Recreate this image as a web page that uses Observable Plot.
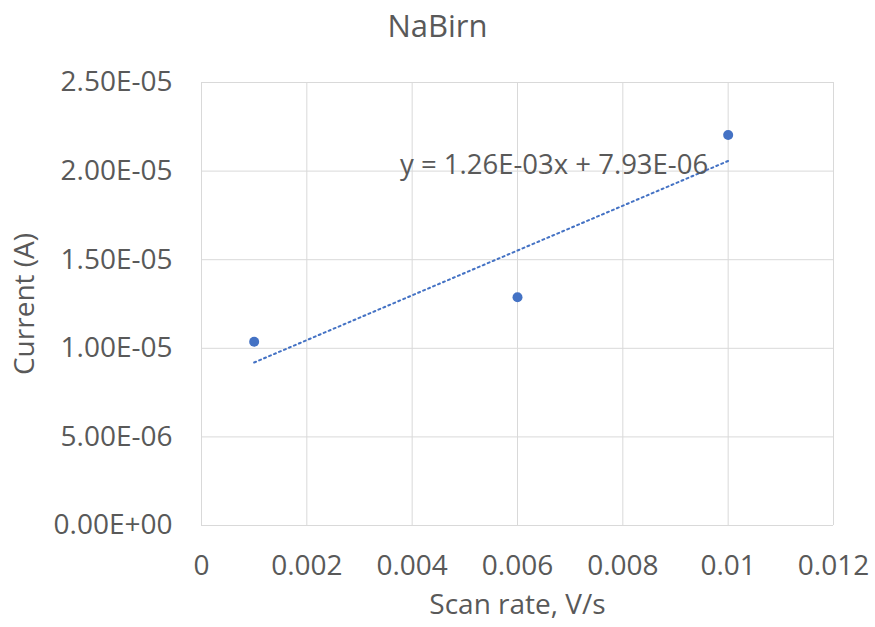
<!DOCTYPE html>
<html>
<head>
<meta charset="utf-8">
<script src="https://cdn.jsdelivr.net/npm/d3@7"></script>
<script src="https://cdn.jsdelivr.net/npm/@observablehq/plot@0.6"></script>
<style>
  body { margin: 0; background: #fff; }
  #title { width: 875px; height: 60px; line-height: 50px; text-align: center;
    font-family: "Open Sans", sans-serif; font-size: 31px; color: #595959; }
  svg { display: block; }
</style>
</head>
<body>
<div id="title">NaBirn</div>
<div id="chart"></div>
<script>
const scanRates = [0.001, 0.006, 0.01];
const currents = [1.037e-5, 1.288e-5, 2.204e-5];
const xTicks = [0, 0.002, 0.004, 0.006, 0.008, 0.01, 0.012];
const yTicks = [0, 5e-6, 1e-5, 1.5e-5, 2e-5, 2.5e-5];

const data = scanRates.map((x, i) => ({x, y: currents[i]}));

// least-squares linear trendline
const mx = d3.mean(scanRates), my = d3.mean(currents);
const slope = d3.sum(data, d => (d.x - mx) * (d.y - my)) / d3.sum(data, d => (d.x - mx) ** 2);
const intercept = my - slope * mx;
const fit = [scanRates[0], scanRates[scanRates.length - 1]].map(x => ({x, y: slope * x + intercept}));

function sci(v) {
  if (v === 0) return "0.00E+00";
  let e = Math.floor(Math.log10(Math.abs(v)));
  let m = v / 10 ** e;
  if (Math.abs(+m.toFixed(2)) >= 10) { e += 1; m = v / 10 ** e; }
  const sign = e < 0 ? "-" : "+";
  return m.toFixed(2) + "E" + sign + String(Math.abs(e)).padStart(2, "0");
}
const eqText = "y = " + sci(slope) + "x + " + sci(intercept);

const grey = "#595959";
const gridColor = "#d9d9d9";
const blue = "#4472C4";

const chart = Plot.plot({
  width: 875,
  height: 567,
  marginLeft: 201,
  marginRight: 42,
  marginTop: 22,
  marginBottom: 102,
  style: { fontFamily: "Open Sans, sans-serif", color: grey, background: "#fff" },
  x: { domain: [0, 0.012] },
  y: { domain: [0, 2.5e-5] },
  marks: [
    Plot.gridX(xTicks, { stroke: gridColor, strokeOpacity: 1 }),
    Plot.gridY(yTicks, { stroke: gridColor, strokeOpacity: 1 }),
    Plot.axisX({ ticks: xTicks, tickFormat: d => String(+d.toFixed(3)), tickSize: 0, tickPadding: 30,
      fontSize: 28, label: "Scan rate, V/s", labelAnchor: "center", labelArrow: "none", labelOffset: 88, fill: grey }),
    Plot.axisY({ ticks: yTicks, tickFormat: sci, tickSize: 0, tickPadding: 29, fontSize: 28,
      label: "Current (A)", labelAnchor: "center", labelArrow: "none", labelOffset: 187, fill: grey }),
    Plot.line(fit, { x: "x", y: "y", stroke: blue, strokeWidth: 2, strokeDasharray: "2,3.4" }),
    Plot.dot(data, { x: "x", y: "y", r: 5, fill: blue, stroke: "none" }),
    Plot.text(fit.slice(-1), { x: "x", y: "y", text: () => eqText, textAnchor: "end", dx: -20, dy: 4,
      fontSize: 27.5, fill: grey })
  ]
});
document.getElementById("chart").appendChild(chart);
</script>
</body>
</html>
